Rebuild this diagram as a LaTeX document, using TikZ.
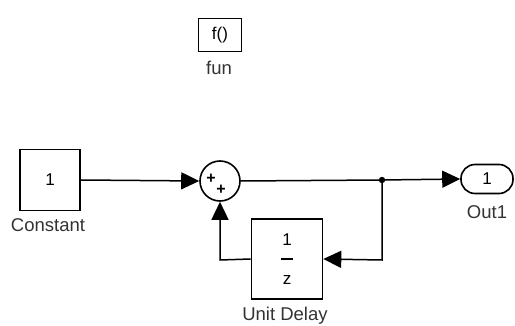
\documentclass[tikz,border=0pt]{standalone}
\usepackage{fontspec}
\setmainfont{Liberation Sans}
\usetikzlibrary{arrows.meta,positioning}
\begin{document}
\begin{tikzpicture}[x=1pt,y=-1pt,
  blk/.style={draw,line width=1.6pt,inner sep=0pt,font=\fontsize{17}{19}\selectfont},
  lbl/.style={font=\fontsize{18.5}{20}\selectfont,text=black!80},
  sig/.style={line width=1.5pt,-{Triangle[length=18pt,width=17pt]}},
  wire/.style={line width=1.5pt},
  plus/.style={font=\bfseries\fontsize{16}{16}\selectfont,inner sep=0pt}]
\useasboundingbox (0,0) rectangle (515,326);
% fun
\node[blk,minimum width=43pt,minimum height=33pt] (fun) at (220,35) {f()};
\node[lbl] (funl) at (219,68) {fun};
% Constant
\node[blk,minimum width=60pt,minimum height=61pt] (const) at (50,180) {1};
\node[lbl] (constl) at (48,225) {Constant};
% Sum
\node[draw,circle,line width=1.6pt,minimum size=40pt,inner sep=0pt] (sum) at (220,181) {};
\node[plus] (p1) at (211,179) {+};
\node[plus] (p2) at (221,190) {+};
% Out1
\node[draw,line width=1.6pt,rounded corners=14pt,minimum width=52pt,minimum height=29pt,inner sep=0pt,font=\fontsize{17}{19}\selectfont] (out) at (487,179) {1};
\node[lbl] (outl) at (487,212) {Out1};
% Unit Delay
\node[blk,minimum width=71pt,minimum height=80pt] (ud) at (287,259) {};
\node[font=\fontsize{17}{19}\selectfont] (num) at (287,240) {1};
\draw[line width=1.5pt] (ud.center) ++(-6,0) -- ++(12,0);
\node[font=\fontsize{17}{19}\selectfont] (den) at (287,280) {z};
\node[lbl] (udl) at (285,316) {Unit Delay};
% connections
\coordinate (j) at (382,180);
\coordinate (c1) at (382,260);
\coordinate (c2) at (220,260);
\draw[sig] (const.east) -- (sum.west);
\draw[wire] (sum.east) -- (j);
\draw[sig] (j) -- (out.west);
\draw[sig] (j) -- (c1) -- (ud.east);
\draw[sig] (ud.west) -- (c2) -- (sum.south);
\fill (j) circle (3.2pt);
\end{tikzpicture}
\end{document}
